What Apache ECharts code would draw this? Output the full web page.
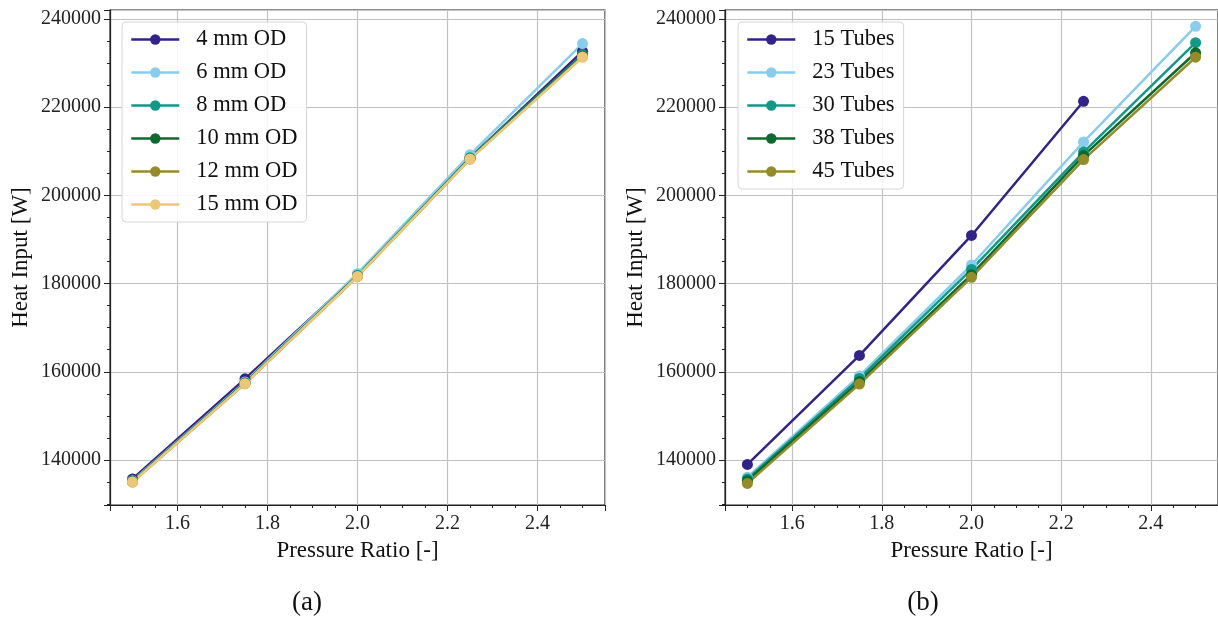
<!DOCTYPE html>
<html>
<head>
<meta charset="utf-8">
<script src="https://cdn.jsdelivr.net/npm/echarts@6/dist/echarts.min.js"></script>
<style>
html,body{margin:0;padding:0;background:#fff;}
#chart{width:1218px;height:622px;}
</style>
</head>
<body>
<div id="chart"></div>
<script>
// ---- data ----
const pressureRatio = [1.5, 1.75, 2.0, 2.25, 2.5];

// panel (a): tube outer diameter
const odNames = ['4 mm OD', '6 mm OD', '8 mm OD', '10 mm OD', '12 mm OD', '15 mm OD'];
const od4  = [135700, 158400, 182000, 208500, 232600];
const od6  = [135300, 157700, 182300, 209200, 234400];
const od8  = [135200, 157500, 181800, 208500, 231900];
const od10 = [135100, 157400, 181700, 208300, 231600];
const od12 = [135000, 157300, 181600, 208200, 231400];
const od15 = [135000, 157300, 181600, 208200, 231300];

// panel (b): number of tubes
const tubeNames = ['15 Tubes', '23 Tubes', '30 Tubes', '38 Tubes', '45 Tubes'];
const tubes15 = [139000, 163700, 190900, 221300];
const tubes23 = [136100, 159050, 184200, 212100, 238300];
const tubes30 = [135700, 158500, 183200, 209800, 234600];
const tubes38 = [135300, 157800, 182000, 209000, 232300];
const tubes45 = [134700, 157200, 181400, 208100, 231300];

const xAxisTitle = 'Pressure Ratio [-]';
const yAxisTitle = 'Heat Input [W]';
const panelLabels = ['(a)', '(b)'];

const palette = ['#332288', '#88CCEE', '#119988', '#0b6a2e', '#958c28', '#ECC874'];

// ---- chart ----
const FONT = '"Liberation Serif", "DejaVu Serif", serif';
const odSeriesVals = [od4, od6, od8, od10, od12, od15];
const tubeSeriesVals = [tubes15, tubes23, tubes30, tubes38, tubes45];

function mkSeries(name, vals, color, idx) {
  return {
    name: name,
    type: 'line',
    xAxisIndex: idx, yAxisIndex: idx,
    data: vals.map((v, i) => [pressureRatio[i], v]),
    symbol: 'circle',
    symbolSize: 11,
    showSymbol: true,
    color: color,
    lineStyle: { width: 2.5, color: color },
    itemStyle: { color: color },
    emphasis: { disabled: true },
    animation: false
  };
}

const series = [];
odSeriesVals.forEach((v, i) => series.push(mkSeries(odNames[i], v, palette[i], 0)));
tubeSeriesVals.forEach((v, i) => series.push(mkSeries(tubeNames[i], v, palette[i], 1)));

function mkX(idx) {
  return {
    type: 'value', gridIndex: idx,
    min: 1.45, max: 2.55, splitNumber: 5,
    name: xAxisTitle, nameLocation: 'middle', nameGap: 34,
    nameTextStyle: { fontFamily: FONT, fontSize: 23, color: '#111' },
    axisLine: { show: true, onZero: false, lineStyle: { color: '#222', width: 1.2 } },
    axisTick: { show: true, length: 6, lineStyle: { color: '#222' } },
    minorTick: { show: true, splitNumber: 4, length: 3, lineStyle: { color: '#222' } },
    axisLabel: {
      fontFamily: FONT, fontSize: 20, color: '#222', margin: 9,
      showMinLabel: false, showMaxLabel: false,
      formatter: v => v.toFixed(1)
    },
    splitLine: { show: true, lineStyle: { color: '#c2c2c2', width: 1.2 } }
  };
}
function mkY(idx) {
  return {
    type: 'value', gridIndex: idx,
    min: 129800, max: 242000, splitNumber: 5,
    name: yAxisTitle, nameLocation: 'middle', nameGap: 78, nameRotate: 90,
    nameTextStyle: { fontFamily: FONT, fontSize: 23, color: '#111' },
    axisLine: { show: true, onZero: false, lineStyle: { color: '#222', width: 1.2 } },
    axisTick: { show: true, length: 6, lineStyle: { color: '#222' } },
    minorTick: { show: true, splitNumber: 4, length: 3, lineStyle: { color: '#222' } },
    axisLabel: {
      fontFamily: FONT, fontSize: 20, color: '#222', margin: 9,
      showMinLabel: false, showMaxLabel: false,
      formatter: v => String(Math.round(v))
    },
    splitLine: { show: true, lineStyle: { color: '#c2c2c2', width: 1.2 } }
  };
}

function mkLegend(names, left) {
  return {
    data: names,
    left: left, top: 22,
    orient: 'vertical',
    itemWidth: 48, itemHeight: 13,
    itemGap: 10,
    padding: [6, 9, 6, 8],
    backgroundColor: 'rgba(255,255,255,0.85)',
    borderColor: '#d6d6d6', borderWidth: 1, borderRadius: 4,
    selectedMode: false,
    lineStyle: { width: 2.6 },
    textStyle: { fontFamily: FONT, fontSize: 22.5, color: '#111', lineHeight: 23, padding: [0, 0, 0, 12] }
  };
}

const chart = echarts.init(document.getElementById('chart'), null, { renderer: 'canvas' });
chart.setOption({
  backgroundColor: '#fff',
  animation: false,
  textStyle: { fontFamily: FONT },
  grid: [
    { left: 110, top: 10, width: 495, height: 495, show: true, borderColor: '#222', borderWidth: 1.2, backgroundColor: 'transparent' },
    { left: 725, top: 10, width: 495, height: 495, show: true, borderColor: '#222', borderWidth: 1.2, backgroundColor: 'transparent' }
  ],
  xAxis: [mkX(0), mkX(1)],
  yAxis: [mkY(0), mkY(1)],
  legend: [mkLegend(odNames, 122), mkLegend(tubeNames, 738)],
  title: [
    { text: panelLabels[0], left: 302, top: 584, textAlign: 'center', textStyle: { fontFamily: FONT, fontSize: 27, fontWeight: 'normal', color: '#111' } },
    { text: panelLabels[1], left: 918, top: 584, textAlign: 'center', textStyle: { fontFamily: FONT, fontSize: 27, fontWeight: 'normal', color: '#111' } }
  ],
  series: series
});
</script>
</body>
</html>
